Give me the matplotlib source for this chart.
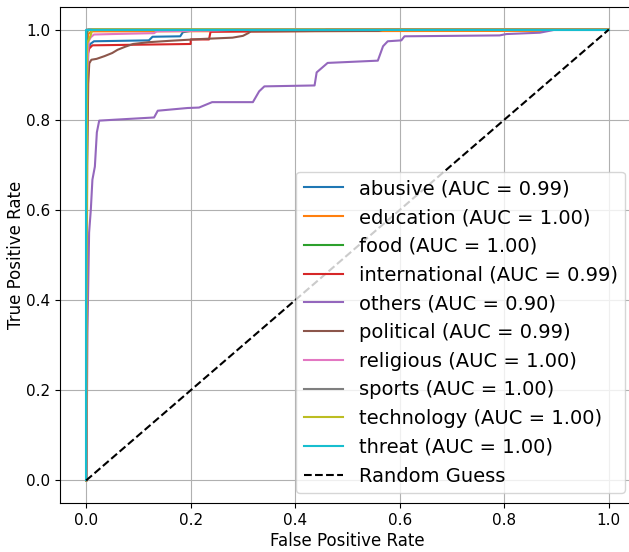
import matplotlib
matplotlib.use("Agg")
import matplotlib.pyplot as plt

# ROC points (fpr, tpr) per class
classes = ["abusive", "education", "food", "international", "others",
           "political", "religious", "sports", "technology", "threat"]
aucs = [0.99, 1.00, 1.00, 0.99, 0.90, 0.99, 1.00, 1.00, 1.00, 1.00]

fpr_abusive = [0, 0.002, 0.004, 0.008, 0.015, 0.12, 0.127, 0.18, 0.185, 0.2, 0.3, 1]
tpr_abusive = [0, 0.8, 0.955, 0.968, 0.974, 0.976, 0.984, 0.985, 0.994, 0.997, 0.999, 1]

fpr_education = [0, 0.002, 0.004, 0.01, 0.88, 0.89, 1]
tpr_education = [0, 0.95, 0.99, 0.996, 0.997, 1, 1]

fpr_food = [0, 0.001, 0.004, 1]
tpr_food = [0, 0.99, 1, 1]

fpr_international = [0, 0.001, 0.002, 0.003, 0.006, 0.012, 0.2, 0.2, 0.235, 0.238, 0.45, 0.46, 1]
tpr_international = [0, 0.6, 0.9, 0.945, 0.958, 0.965, 0.968, 0.978, 0.978, 0.995, 0.997, 1, 1]

fpr_others = [0, 0.0006, 0.0025, 0.0057, 0.009, 0.012, 0.0167, 0.0205, 0.025, 0.054,
              0.130, 0.137, 0.194, 0.216, 0.241, 0.319, 0.331, 0.341, 0.437, 0.441,
              0.462, 0.558, 0.568, 0.577, 0.603, 0.609, 0.791, 0.804, 0.868, 0.890,
              0.898, 1]
tpr_others = [0, 0.01, 0.328, 0.55, 0.601, 0.667, 0.696, 0.772, 0.798, 0.800,
              0.805, 0.820, 0.826, 0.827, 0.839, 0.839, 0.863, 0.874, 0.876, 0.905,
              0.926, 0.931, 0.963, 0.974, 0.976, 0.985, 0.987, 0.990, 0.993, 0.998,
              1.0, 1]

fpr_political = [0, 0.002, 0.004, 0.006, 0.01, 0.02, 0.035, 0.05, 0.06, 0.075, 0.09,
                 0.12, 0.16, 0.22, 0.28, 0.30, 0.31, 0.315, 0.56, 0.57, 1]
tpr_political = [0, 0.7, 0.88, 0.925, 0.933, 0.935, 0.941, 0.948, 0.955, 0.962, 0.968,
                 0.972, 0.975, 0.979, 0.982, 0.986, 0.992, 0.996, 0.997, 1.0, 1]

fpr_religious = [0, 0.002, 0.005, 0.009, 0.015, 0.05, 0.13, 0.135, 0.25, 0.3, 1]
tpr_religious = [0, 0.9, 0.975, 0.983, 0.989, 0.99, 0.992, 0.996, 0.998, 1, 1]

fpr_sports = [0, 0.001, 1]
tpr_sports = [0, 1, 1]

fpr_technology = [0, 0.002, 0.008, 0.012, 1]
tpr_technology = [0, 0.97, 0.985, 1.0, 1]

fpr_threat = [0, 0, 1]
tpr_threat = [0, 1, 1]

fprs = [fpr_abusive, fpr_education, fpr_food, fpr_international, fpr_others,
        fpr_political, fpr_religious, fpr_sports, fpr_technology, fpr_threat]
tprs = [tpr_abusive, tpr_education, tpr_food, tpr_international, tpr_others,
        tpr_political, tpr_religious, tpr_sports, tpr_technology, tpr_threat]

fig = plt.figure(figsize=(6.29, 5.52), dpi=100)
ax = fig.add_axes([60 / 629, 49 / 552, 575 / 629, 496 / 552])

for name, auc, fpr, tpr in zip(classes, aucs, fprs, tprs):
    ax.plot(fpr, tpr, lw=1.5, label=f"{name} (AUC = {auc:.2f})")

ax.plot([0, 1], [0, 1], "k--", lw=1.5, label="Random Guess")

ax.set_xlim(-0.05, 1.05)
ax.set_ylim(-0.05, 1.05)
ax.set_xlabel("False Positive Rate", fontsize=12, labelpad=3)
ax.set_ylabel("True Positive Rate", fontsize=12, labelpad=1)
ax.tick_params(labelsize=11)
ax.grid(True)
ax.legend(loc="lower right", fontsize=14)

fig.savefig("out.png", dpi=100)
